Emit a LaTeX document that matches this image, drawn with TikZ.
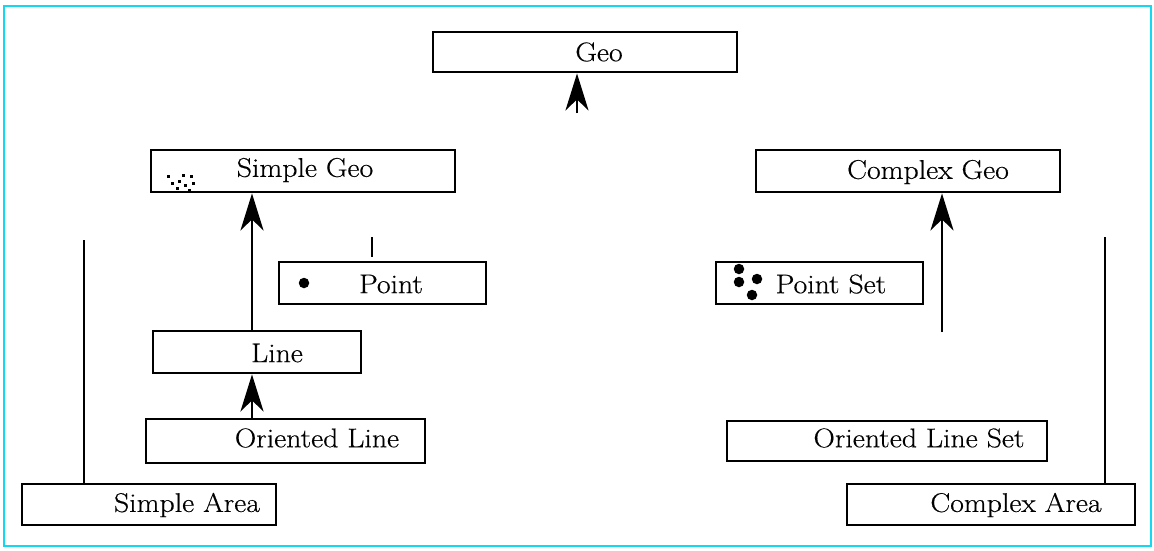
\documentclass[tikz,border=0pt]{standalone}
\usepackage{fontspec}
\setmainfont{Latin Modern Roman}[FakeStretch=1.1,FakeBold=0.4]
\usetikzlibrary{arrows.meta}
\definecolor{frame}{RGB}{20,215,240}
\begin{document}
\begin{tikzpicture}[x=1pt,y=-1pt,
  box/.style={draw=black,line width=2.8pt,rectangle,inner sep=0pt,fill=white},
  lbl/.style={font=\fontsize{27}{32}\selectfont,inner sep=0pt,anchor=center},
  conn/.style={line width=2.8pt},
  arr/.style={line width=2.8pt,-{Stealth[length=37pt,width=23pt,inset=11pt]}},
  dot/.style={circle,fill=black,inner sep=0pt,minimum size=10.5pt}
]
\useasboundingbox (0,0) rectangle (1154,550);
\draw[frame,line width=2.4pt] (4,6) rectangle (1151,546);

% boxes
\node[box,minimum width=304pt,minimum height=40pt] (geo) at (585,52) {};
\node[box,minimum width=304pt,minimum height=42pt] (sgeo) at (303,171) {};
\node[box,minimum width=304pt,minimum height=42pt] (cgeo) at (908,171) {};
\node[box,minimum width=207pt,minimum height=42pt] (pt) at (382.5,283) {};
\node[box,minimum width=207pt,minimum height=42pt] (pset) at (819.5,283) {};
\node[box,minimum width=208pt,minimum height=42pt] (line) at (257,352) {};
\node[box,minimum width=279pt,minimum height=44pt] (oline) at (285.5,441) {};
\node[box,minimum width=320pt,minimum height=40pt] (olset) at (887,441) {};
\node[box,minimum width=254pt,minimum height=41pt] (sarea) at (149,504.5) {};
\node[box,minimum width=288pt,minimum height=41pt] (carea) at (991,504.5) {};

% labels
\node[lbl] (tgeo) at (599,52) {Geo};
\node[lbl] (tsgeo) at (305,170) {Simple Geo};
\node[lbl] (tcgeo) at (928,172) {Complex Geo};
\node[lbl] (tpt) at (391,284) {Point};
\node[lbl] (tpset) at (831,284) {Point Set};
\node[lbl] (tline) at (277,353) {Line};
\node[lbl] (toline) at (317,438) {Oriented Line};
\node[lbl] (tolset) at (919,438) {Oriented Line Set};
\node[lbl] (tsarea) at (187,505) {Simple Area};
\node[lbl] (tcarea) at (1016,505) {Complex Area};

% icons
\node[dot] (pdot) at (304,283) {};
\node[dot] (ps1) at (739,269) {};
\node[dot] (ps2) at (739,282) {};
\node[dot] (ps3) at (757,279) {};
\node[dot] (ps4) at (752,295) {};
\foreach \x/\y in {168/176,183/175,191/176,172/183,179/181,185/185,193/183,177/188,189/190}
  \fill (\x-1.5,\y-1.5) rectangle (\x+1.5,\y+1.5);

% connectors
\coordinate (ga) at (577,113);
\draw[arr] (ga) -- (ga |- geo.south);
\draw[arr] (line.north -| 252,0) -- (sgeo.south -| 252,0);
\draw[arr] (oline.north -| 252,0) -- (line.south -| 252,0);
\coordinate (ca) at (942,332);
\draw[arr] (ca) -- (ca |- cgeo.south);
\coordinate (pa) at (372,237);
\coordinate (pb) at (372,257);
\draw[conn] (pa) -- (pb);
\coordinate (sa) at (84,240);
\draw[conn] (sa) -- (sa |- sarea.north);
\coordinate (cx) at (1105,237);
\draw[conn] (cx) -- (cx |- carea.north);
\end{tikzpicture}
\end{document}
